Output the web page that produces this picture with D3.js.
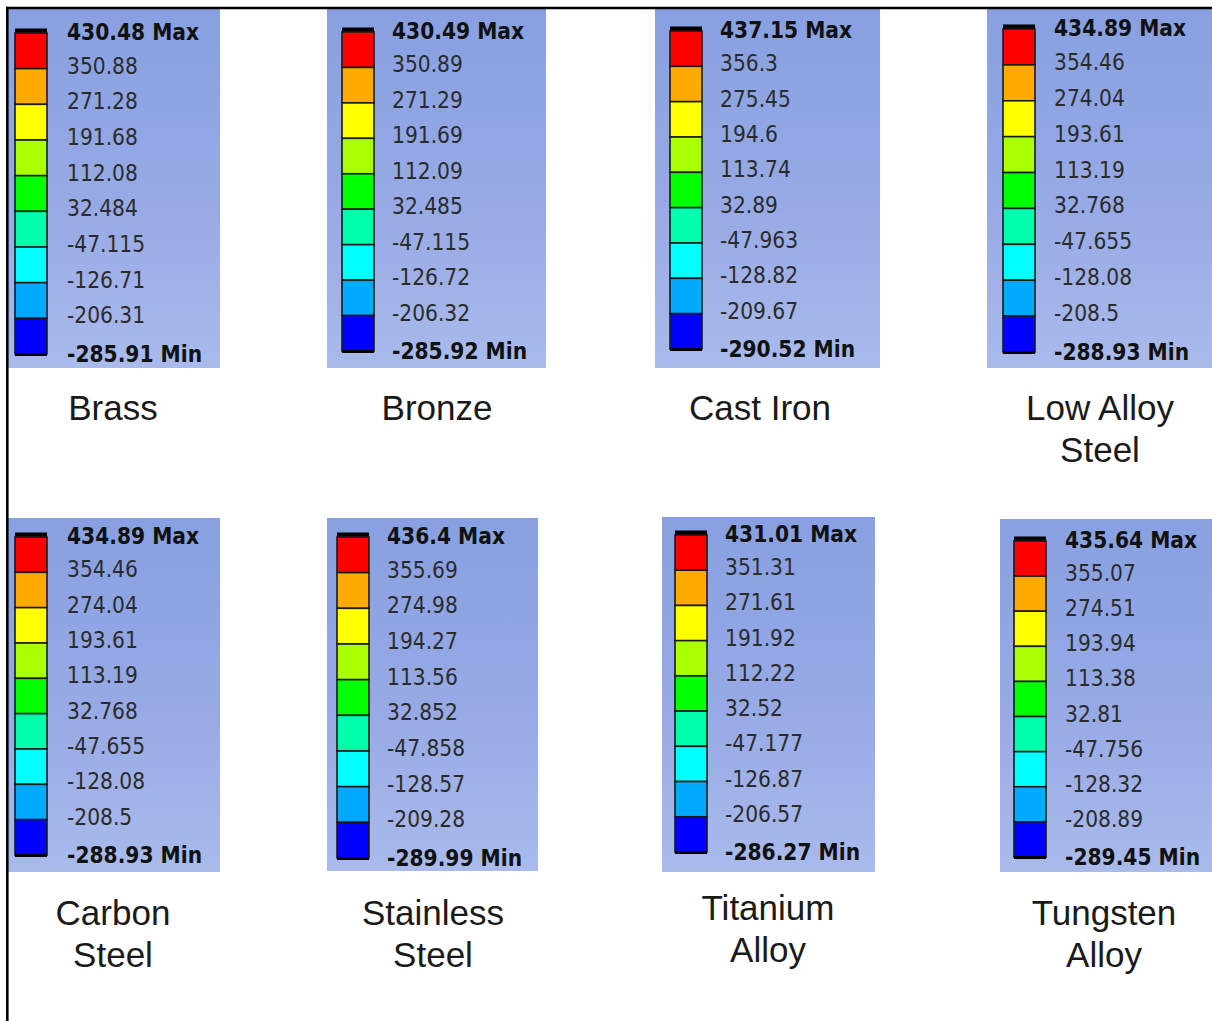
<!DOCTYPE html>
<html>
<head>
<meta charset="utf-8">
<script src="https://cdn.jsdelivr.net/npm/d3@7"></script>
<style>
  html, body { margin: 0; padding: 0; background: #ffffff; }
  svg { display: block; }
</style>
</head>
<body>
<script>
// ---------- data ----------
const materials = ["Brass", "Bronze", "Cast Iron", "Low Alloy Steel",
                   "Carbon Steel", "Stainless Steel", "Titanium Alloy", "Tungsten Alloy"];
const titleLines = [["Brass"], ["Bronze"], ["Cast Iron"], ["Low Alloy", "Steel"],
                    ["Carbon", "Steel"], ["Stainless", "Steel"], ["Titanium", "Alloy"], ["Tungsten", "Alloy"]];

const brass     = [430.48, 350.88, 271.28, 191.68, 112.08, 32.484, -47.115, -126.71, -206.31, -285.91];
const bronze    = [430.49, 350.89, 271.29, 191.69, 112.09, 32.485, -47.115, -126.72, -206.32, -285.92];
const castIron  = [437.15, 356.3, 275.45, 194.6, 113.74, 32.89, -47.963, -128.82, -209.67, -290.52];
const lowAlloy  = [434.89, 354.46, 274.04, 193.61, 113.19, 32.768, -47.655, -128.08, -208.5, -288.93];
const carbon    = [434.89, 354.46, 274.04, 193.61, 113.19, 32.768, -47.655, -128.08, -208.5, -288.93];
const stainless = [436.4, 355.69, 274.98, 194.27, 113.56, 32.852, -47.858, -128.57, -209.28, -289.99];
const titanium  = [431.01, 351.31, 271.61, 191.92, 112.22, 32.52, -47.177, -126.87, -206.57, -286.27];
const tungsten  = [435.64, 355.07, 274.51, 193.94, 113.38, 32.81, -47.756, -128.32, -208.89, -289.45];
const levelSets = [brass, bronze, castIron, lowAlloy, carbon, stainless, titanium, tungsten];

const bandColors = ["#ff0000", "#ffaa00", "#ffff00", "#aaff00", "#00ff00",
                    "#00ffaa", "#00ffff", "#00aaff", "#0000ff"];

// ---------- layout (positions only) ----------
const layout = [
  { x0: 8,    y0: 9,   x1: 220,  y1: 368, barX: 15,   top: 33,  bot: 354, labelX: 67,   tx: 113,  ty: 420 },
  { x0: 327,  y0: 9,   x1: 546,  y1: 368, barX: 342,  top: 32,  bot: 351, labelX: 392,  tx: 437,  ty: 420 },
  { x0: 655,  y0: 9,   x1: 880,  y1: 368, barX: 670,  top: 31,  bot: 349, labelX: 720,  tx: 760,  ty: 420 },
  { x0: 987,  y0: 9,   x1: 1212, y1: 368, barX: 1003, top: 29,  bot: 352, labelX: 1054, tx: 1100, ty: 420 },
  { x0: 8,    y0: 518, x1: 220,  y1: 872, barX: 15,   top: 537, bot: 855, labelX: 67,   tx: 113,  ty: 925 },
  { x0: 327,  y0: 518, x1: 538,  y1: 871, barX: 337,  top: 537, bot: 858, labelX: 387,  tx: 433,  ty: 925 },
  { x0: 662,  y0: 517, x1: 875,  y1: 872, barX: 675,  top: 535, bot: 852, labelX: 725,  tx: 768,  ty: 920 },
  { x0: 1000, y0: 519, x1: 1212, y1: 872, barX: 1014, top: 541, bot: 857, labelX: 1065, tx: 1104, ty: 925 }
];

const W = 1212, H = 1021;
const barW = 32;

const svg = d3.select("body").append("svg")
  .attr("width", W).attr("height", H)
  .attr("viewBox", `0 0 ${W} ${H}`);

const defs = svg.append("defs");
const grad = defs.append("linearGradient")
  .attr("id", "panelGrad").attr("x1", 0).attr("y1", 0).attr("x2", 0).attr("y2", 1);
grad.append("stop").attr("offset", "0%").attr("stop-color", "#88a0e1");
grad.append("stop").attr("offset", "55%").attr("stop-color", "#97aae5");
grad.append("stop").attr("offset", "100%").attr("stop-color", "#a9baeb");

materials.forEach((name, k) => {
  const L = layout[k];
  const v = levelSets[k];
  const g = svg.append("g").attr("class", "legend").attr("data-material", name);

  g.append("rect")
    .attr("x", L.x0).attr("y", L.y0)
    .attr("width", L.x1 - L.x0).attr("height", L.y1 - L.y0)
    .attr("fill", "url(#panelGrad)");

  const y = d3.scaleLinear()
    .domain([v[v.length - 1], v[0]])
    .range([L.bot, L.top]);

  // top black cap
  g.append("rect")
    .attr("x", L.barX).attr("y", y(v[0]) - 4.5)
    .attr("width", barW).attr("height", 5)
    .attr("fill", "#000");

  // colour bands
  const bands = d3.range(v.length - 1).map(i => ({ hi: v[i], lo: v[i + 1], color: bandColors[i] }));
  g.selectAll("rect.band").data(bands).join("rect")
    .attr("class", "band")
    .attr("x", L.barX).attr("y", d => y(d.hi))
    .attr("width", barW).attr("height", d => y(d.lo) - y(d.hi))
    .attr("fill", d => d.color)
    .attr("stroke", "#1a1a1a").attr("stroke-width", 1.6);

  // bottom dark edge
  g.append("rect")
    .attr("x", L.barX).attr("y", y(v[v.length - 1]) - 1)
    .attr("width", barW).attr("height", 3)
    .attr("fill", "#000");

  // labels
  g.selectAll("text.lvl").data(v).join("text")
    .attr("class", "lvl")
    .attr("x", L.labelX)
    .attr("y", (d, i) => y(d) - (i === 0 ? 1 : (i === v.length - 1 ? 0 : 3)))
    .attr("dominant-baseline", "central")
    .attr("font-family", "'DejaVu Sans Condensed', 'DejaVu Sans', sans-serif")
    .attr("font-stretch", "condensed")
    .attr("font-size", 22.5)
    .attr("font-weight", (d, i) => (i === 0 || i === v.length - 1) ? "bold" : "normal")
    .attr("fill", (d, i) => (i === 0 || i === v.length - 1) ? "#111" : "#2b2b2b")
    .text((d, i) => i === 0 ? `${d} Max` : (i === v.length - 1 ? `${d} Min` : `${d}`));

  // title
  g.selectAll("text.title").data(titleLines[k]).join("text")
    .attr("class", "title")
    .attr("x", L.tx)
    .attr("y", (d, i) => L.ty + i * 42)
    .attr("text-anchor", "middle")
    .attr("font-family", "'Liberation Sans', Arial, sans-serif")
    .attr("font-size", 35)
    .attr("fill", "#1a1a1a")
    .text(d => d);
});

// frame lines (top and left)
svg.append("line").attr("x1", 6).attr("y1", 8).attr("x2", W).attr("y2", 8)
  .attr("stroke", "#000").attr("stroke-width", 2.6);
svg.append("line").attr("x1", 7.3).attr("y1", 6.7).attr("x2", 7.3).attr("y2", H)
  .attr("stroke", "#000").attr("stroke-width", 2.6);
</script>
</body>
</html>
